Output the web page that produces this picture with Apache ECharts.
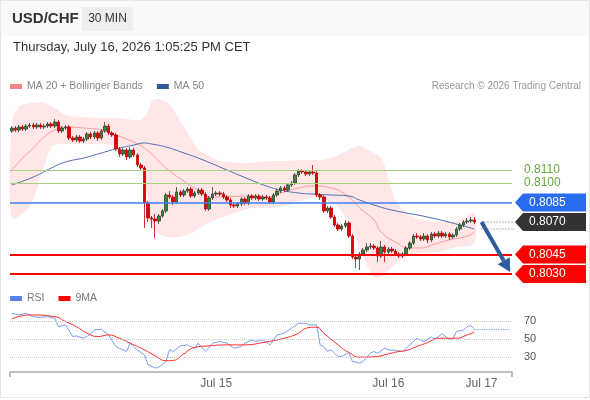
<!DOCTYPE html>
<html>
<head>
<meta charset="utf-8">
<script src="https://cdn.jsdelivr.net/npm/echarts@6.0.0/dist/echarts.min.js"></script>
<style>
html,body{margin:0;padding:0;background:#fff}
#main{width:590px;height:400px}
</style>
</head>
<body>
<div id="main"></div>
<script>
var FONT = '"Liberation Sans", Arial, sans-serif';

// USD/CHF 30 min candles
var opens = [
0.81400,0.81423,0.81408,0.81431,0.81415,0.81438,0.81446,0.81431,0.81446,0.81431,
0.81438,0.81454,0.81438,0.81469,0.81400,0.81423,0.81431,0.81346,0.81331,0.81354,
0.81323,0.81338,0.81377,0.81354,0.81385,0.81346,0.81400,0.81438,0.81385,0.81369,
0.81262,0.81223,0.81254,0.81200,0.81254,0.81215,0.81138,0.81115,0.80846,0.80731,
0.80723,0.80708,0.80746,0.80785,0.80908,0.80892,0.80854,0.80931,0.80908,0.80938,
0.80954,0.80900,0.80923,0.80946,0.80915,0.80800,0.80885,0.80915,0.80923,0.80915,
0.80892,0.80869,0.80831,0.80823,0.80838,0.80877,0.80846,0.80900,0.80885,0.80900,
0.80877,0.80892,0.80885,0.80854,0.80908,0.80938,0.80962,0.80946,0.80985,0.81000,
0.81062,0.81092,0.81085,0.81069,0.81085,0.81077,0.80908,0.80892,0.80785,0.80808,
0.80738,0.80677,0.80646,0.80669,0.80692,0.80592,0.80431,0.80415,0.80454,0.80485,
0.80508,0.80515,0.80500,0.80438,0.80508,0.80469,0.80492,0.80477,0.80454,0.80438,
0.80454,0.80500,0.80538,0.80592,0.80585,0.80569,0.80592,0.80562,0.80608,0.80592,
0.80615,0.80592,0.80608,0.80585,0.80600,0.80646,0.80677,0.80700,0.80708,0.80715];
var closes = [
0.81423,0.81408,0.81431,0.81415,0.81438,0.81446,0.81431,0.81446,0.81431,0.81438,
0.81454,0.81438,0.81469,0.81400,0.81423,0.81431,0.81346,0.81331,0.81354,0.81323,
0.81338,0.81377,0.81354,0.81385,0.81346,0.81400,0.81438,0.81385,0.81369,0.81262,
0.81223,0.81254,0.81200,0.81254,0.81215,0.81138,0.81115,0.80846,0.80731,0.80723,
0.80708,0.80746,0.80785,0.80908,0.80892,0.80854,0.80931,0.80908,0.80938,0.80954,
0.80900,0.80923,0.80946,0.80915,0.80800,0.80885,0.80915,0.80923,0.80915,0.80892,
0.80869,0.80831,0.80823,0.80838,0.80877,0.80846,0.80900,0.80885,0.80900,0.80877,
0.80892,0.80885,0.80854,0.80908,0.80938,0.80962,0.80946,0.80985,0.81000,0.81062,
0.81092,0.81085,0.81069,0.81085,0.81077,0.80908,0.80892,0.80785,0.80808,0.80738,
0.80677,0.80646,0.80669,0.80692,0.80592,0.80431,0.80415,0.80454,0.80485,0.80508,
0.80515,0.80500,0.80438,0.80508,0.80469,0.80492,0.80477,0.80454,0.80438,0.80454,
0.80500,0.80538,0.80592,0.80585,0.80569,0.80592,0.80562,0.80608,0.80592,0.80615,
0.80592,0.80608,0.80585,0.80600,0.80646,0.80677,0.80700,0.80708,0.80715,0.80700];
var highs = [
0.81438,0.81438,0.81446,0.81446,0.81454,0.81462,0.81462,0.81462,0.81462,0.81454,
0.81469,0.81469,0.81492,0.81485,0.81438,0.81446,0.81446,0.81362,0.81369,0.81369,
0.81354,0.81392,0.81392,0.81400,0.81400,0.81415,0.81469,0.81454,0.81400,0.81385,
0.81277,0.81269,0.81269,0.81277,0.81269,0.81231,0.81154,0.81131,0.80862,0.80746,
0.80762,0.80762,0.80800,0.80923,0.80938,0.80908,0.80969,0.80946,0.80954,0.80969,
0.80969,0.80938,0.80962,0.80962,0.80931,0.80900,0.80969,0.80938,0.80938,0.80931,
0.80908,0.80885,0.80846,0.80854,0.80892,0.80892,0.80915,0.80915,0.80915,0.80915,
0.80908,0.80908,0.80900,0.80923,0.80954,0.80977,0.80977,0.81000,0.81015,0.81077,
0.81108,0.81108,0.81100,0.81100,0.81138,0.81092,0.80923,0.80908,0.80823,0.80823,
0.80754,0.80692,0.80685,0.80715,0.80708,0.80608,0.80446,0.80469,0.80500,0.80538,
0.80538,0.80531,0.80515,0.80554,0.80523,0.80508,0.80508,0.80492,0.80469,0.80469,
0.80515,0.80554,0.80608,0.80615,0.80600,0.80615,0.80608,0.80623,0.80623,0.80631,
0.80631,0.80623,0.80623,0.80615,0.80662,0.80692,0.80715,0.80731,0.80738,0.80738];
var lows = [
0.81385,0.81392,0.81392,0.81400,0.81400,0.81423,0.81415,0.81415,0.81415,0.81415,
0.81423,0.81423,0.81423,0.81385,0.81385,0.81408,0.81331,0.81315,0.81315,0.81308,
0.81308,0.81323,0.81338,0.81338,0.81323,0.81331,0.81385,0.81369,0.81354,0.81246,
0.81200,0.81208,0.81177,0.81185,0.81200,0.81123,0.81092,0.80654,0.80700,0.80654,
0.80577,0.80685,0.80731,0.80769,0.80877,0.80831,0.80838,0.80892,0.80892,0.80923,
0.80885,0.80885,0.80908,0.80900,0.80785,0.80785,0.80869,0.80900,0.80900,0.80877,
0.80854,0.80808,0.80808,0.80808,0.80823,0.80831,0.80831,0.80869,0.80869,0.80862,
0.80862,0.80869,0.80838,0.80838,0.80892,0.80923,0.80931,0.80931,0.80969,0.80985,
0.81046,0.81069,0.81054,0.81054,0.81062,0.80892,0.80869,0.80769,0.80769,0.80723,
0.80662,0.80631,0.80631,0.80654,0.80577,0.80415,0.80346,0.80331,0.80438,0.80469,
0.80492,0.80485,0.80392,0.80423,0.80392,0.80454,0.80462,0.80438,0.80423,0.80423,
0.80438,0.80485,0.80523,0.80569,0.80554,0.80554,0.80538,0.80546,0.80577,0.80577,
0.80577,0.80577,0.80562,0.80569,0.80585,0.80631,0.80662,0.80685,0.80692,0.80685];

// moving averages and bands, read at a few candle positions
var ma20Idx = [0,3,6,9,12,15,20,25,29,34,38,43,48,52,56,67,71,75,80,84,89,94,97,101,103,107,111,114,117,122,127,129];
var ma20Val = [0.81100,0.81192,0.81269,0.81354,0.81408,0.81431,0.81423,0.81408,0.81369,0.81315,0.81246,0.81115,0.81015,0.80946,0.80892,0.80900,0.80892,0.80923,0.80962,0.80977,0.80962,0.80892,0.80808,0.80715,0.80623,0.80546,0.80500,0.80500,0.80523,0.80562,0.80592,0.80623];
var ma50Idx = [0,6,11,15,20,25,29,34,37,39,43,48,52,60,66,71,75,80,84,89,94,97,101,106,116,125,129];
var ma50Val = [0.80985,0.81046,0.81115,0.81162,0.81192,0.81231,0.81262,0.81292,0.81308,0.81300,0.81277,0.81231,0.81192,0.81100,0.81031,0.80977,0.80946,0.80923,0.80915,0.80908,0.80900,0.80869,0.80831,0.80792,0.80738,0.80677,0.80646];
var bandUpIdx = [0,2,5,9,12,15,20,25,30,36,38,39,41,44,47,50,52,55,58,63,67,72,77,81,86,89,91,95,97,100,103,105,107,110,114,119,125,129];
var bandUpVal = [0.81462,0.81585,0.81615,0.81615,0.81577,0.81523,0.81508,0.81500,0.81500,0.81485,0.81554,0.81631,0.81646,0.81608,0.81477,0.81346,0.81254,0.81208,0.81169,0.81154,0.81154,0.81169,0.81169,0.81177,0.81177,0.81192,0.81215,0.81269,0.81285,0.81246,0.81192,0.81038,0.80869,0.80777,0.80715,0.80700,0.80715,0.80769];
var bandLoIdx = [0,5,8,11,13,19,25,30,34,36,38,39,43,46,49,53,58,63,67,72,77,81,85,91,95,98,101,103,106,111,119,123,129];
var bandLoVal = [0.80731,0.80815,0.81046,0.81277,0.81300,0.81300,0.81300,0.81285,0.81269,0.81177,0.80869,0.80654,0.80585,0.80585,0.80600,0.80662,0.80731,0.80777,0.80808,0.80808,0.80831,0.80869,0.80885,0.80815,0.80638,0.80431,0.80277,0.80277,0.80354,0.80446,0.80469,0.80500,0.80538];

// RSI panel
var rsiIdx = [0,2,4,6,8,10,12,13,15,17,18,20,22,23,25,27,29,30,32,33,35,37,38,40,41,43,44,45,47,49,51,52,54,56,58,60,62,64,65,67,68,70,72,74,76,78,80,82,83,85,86,87,88,89,91,92,94,95,97,98,100,101,102,104,105,107,109,111,113,114,115,117,118,120,122,123,124,126,127,128,129];
var rsiVal = [78.5,76.7,78.5,74.8,74,74.8,73,63.7,65.6,52.6,53.3,50.7,55.2,60,60.7,54.4,41.5,39.6,35.9,45.2,37.8,32.2,21.1,17.4,18.5,24.8,37.8,35.9,42.2,43.3,39.6,45.2,35.9,45.2,47,45.2,39.6,41.5,45.2,48.9,47,48.9,43.3,54.4,56.3,61.9,67.4,67.4,65.6,65.6,43.3,41.5,35.9,37.8,30.4,30.4,34.8,24.8,23,24.8,34,35.9,34,39.6,37.8,37,35.9,43.3,50.7,48.9,47,51.9,49.6,55.6,49.6,49.6,58.1,60,63.7,64.8,61.1];
var rsiMaIdx = [0,5,12,15,18,21,24,27,30,33,37,40,43,45,48,51,55,60,65,70,76,80,82,85,87,91,94,97,102,105,108,110,113,116,119,124,127,129];
var rsiMaVal = [72.2,76.7,74.8,69.3,63.7,56.3,52.6,54.4,50.7,45.2,37.8,31.1,25.6,25.9,33.3,40.4,42.2,43.3,43.3,45.9,50.7,56.3,61.9,63,56.3,43.3,34.8,29.6,30.4,33.3,35.9,37,41.5,45.9,50.7,50.7,54.4,57.4];
var rsiLevels = [30, 50, 70];

// key levels
var resistLevels = [0.8110, 0.8100];
var pivotLevel = 0.8085;
var lastPrice = 0.8070;
var supportLevels = [0.8045, 0.8030];

var xTickIdx = [57, 105, 131];
var xTickText = ['Jul 15', 'Jul 16', 'Jul 17'];
var nCats = 140;

var cats = [];
for (var i = 0; i < nCats; i++) cats.push(String(i));
var candleData = opens.map(function (o, i) { return [o, closes[i], lows[i], highs[i]]; });
function pairs(idx, val) { return idx.map(function (x, i) { return [x, val[i]]; }); }

var chart = echarts.init(document.getElementById('main'), null, {renderer: 'canvas'});

var levelLines = [];
resistLevels.forEach(function (v) {
  levelLines.push({yAxis: v, lineStyle: {color: '#a3d27a', width: 1, type: 'solid'},
    label: {show: true, position: 'end', distance: 12, color: '#62a83c', fontSize: 12, fontFamily: FONT, formatter: v.toFixed(4)}});
});
levelLines.push({yAxis: pivotLevel, lineStyle: {color: '#3f7ff0', width: 1.5, type: 'solid'}});
supportLevels.forEach(function (v) {
  levelLines.push({yAxis: v, lineStyle: {color: '#ff0000', width: 2, type: 'solid'}});
});

var option = {
  animation: false,
  backgroundColor: '#fff',
  textStyle: {fontFamily: FONT},
  grid: [
    {left: 10, width: 502, top: 79, height: 208},
    {left: 10, width: 502, top: 312, height: 60}
  ],
  legend: [
    {data: ['MA 20 + Bollinger Bands', 'MA 50'], left: 10, top: 81, icon: 'rect', itemWidth: 12, itemHeight: 5,
      itemGap: 14, selectedMode: false, padding: 0,
      textStyle: {color: '#888', fontSize: 10.5, fontFamily: FONT}},
    {data: ['RSI', '9MA'], left: 10, top: 293, icon: 'rect', itemWidth: 12, itemHeight: 5,
      itemGap: 14, selectedMode: false, padding: 0,
      textStyle: {color: '#777', fontSize: 10.5, fontFamily: FONT}}
  ],
  xAxis: [
    {type: 'category', gridIndex: 0, data: cats, boundaryGap: true, show: false},
    {type: 'category', gridIndex: 1, data: cats, boundaryGap: true,
      axisLine: {lineStyle: {color: '#aaaaaa', width: 1.5}},
      axisTick: {show: false},
      axisLabel: {interval: 0, color: '#666', fontSize: 12, margin: 6, fontFamily: FONT,
        formatter: function (v, i) { var k = xTickIdx.indexOf(i); return k >= 0 ? xTickText[k] : ''; }}}
  ],
  yAxis: [
    {type: 'value', gridIndex: 0, min: 0.802, max: 0.818, show: false},
    {type: 'value', gridIndex: 1, min: 13, max: 80, show: false}
  ],
  series: [
    {
      type: 'custom', name: 'bands', xAxisIndex: 0, yAxisIndex: 0, silent: true, z: 1,
      data: [[0, 0.81]],
      renderItem: function (params, api) {
        var pts = [];
        for (var i = 0; i < bandUpIdx.length; i++) pts.push(api.coord([bandUpIdx[i], bandUpVal[i]]));
        for (var j = bandLoIdx.length - 1; j >= 0; j--) pts.push(api.coord([bandLoIdx[j], bandLoVal[j]]));
        return {type: 'polygon', shape: {points: pts, smooth: 0.25}, style: {fill: 'rgba(255,110,110,0.17)'}};
      }
    },
    {
      type: 'line', name: 'MA 20 + Bollinger Bands', xAxisIndex: 0, yAxisIndex: 0, z: 2,
      data: pairs(ma20Idx, ma20Val), smooth: true, showSymbol: false, silent: true,
      color: '#ff8585', lineStyle: {color: '#ff9a9a', width: 1}
    },
    {
      type: 'line', name: 'MA 50', xAxisIndex: 0, yAxisIndex: 0, z: 2,
      data: pairs(ma50Idx, ma50Val), smooth: true, showSymbol: false, silent: true,
      color: '#2f5a9e', lineStyle: {color: '#4a6fb0', width: 1},
      markLine: {symbol: ['none', 'none'], silent: true, precision: 5, label: {show: false}, data: levelLines}
    },
    {
      type: 'candlestick', name: 'USD/CHF', xAxisIndex: 0, yAxisIndex: 0, z: 3,
      data: candleData, barWidth: 3,
      itemStyle: {color: '#2e8b2e', color0: '#e00000', borderColor: '#3a3a3a', borderColor0: '#c00000', borderWidth: 0.8}
    },
    {
      type: 'line', name: 'RSI', xAxisIndex: 1, yAxisIndex: 1,
      data: pairs(rsiIdx, rsiVal), showSymbol: false, silent: true,
      color: '#5b84e8', lineStyle: {color: '#7b9ef0', width: 1},
      markLine: {symbol: ['none', 'none'], silent: true, precision: 2, label: {show: false},
        lineStyle: {color: '#7b9ef0', type: 'dotted', width: 1.2},
        data: [[{coord: [rsiIdx[rsiIdx.length - 1], rsiVal[rsiVal.length - 1]]}, {coord: [nCats - 1, rsiVal[rsiVal.length - 1]]}]]}
    },
    {
      type: 'line', name: '9MA', xAxisIndex: 1, yAxisIndex: 1,
      data: pairs(rsiMaIdx, rsiMaVal), smooth: true, showSymbol: false, silent: true,
      color: '#ff0000', lineStyle: {color: '#ff2a2a', width: 1},
      markLine: {symbol: ['none', 'none'], silent: true,
        lineStyle: {color: '#c8c8c8', type: 'dotted', width: 1},
        label: {show: true, position: 'end', distance: 12, color: '#555', fontSize: 11, fontFamily: FONT,
          formatter: function (p) { return p.value; }},
        data: rsiLevels.map(function (v) { return {yAxis: v}; })}
    }
  ]
};
chart.setOption(option);

// tags, arrow and header drawn after layout, positioned through the axes
function py(v) { return chart.convertToPixel({yAxisIndex: 0}, v); }
function pxy(i, v) { return chart.convertToPixel({gridIndex: 0}, [i, v]); }

var g = [];
g.push({type: 'rect', shape: {x: 0, y: 0, width: 590, height: 36}, style: {fill: '#f9f9f9'}, z: 0});
g.push({type: 'rect', shape: {x: 82, y: 7, width: 51, height: 24}, style: {fill: '#eeeeee'}, z: 1});
g.push({type: 'text', x: 12, y: 19, style: {text: 'USD/CHF', fill: '#333', fontSize: 15, fontWeight: 'bold', fontFamily: FONT, verticalAlign: 'middle'}, z: 2});
g.push({type: 'text', x: 107.5, y: 19, style: {text: '30 MIN', fill: '#333', fontSize: 12, fontFamily: FONT, align: 'center', verticalAlign: 'middle'}, z: 2});
g.push({type: 'text', x: 13, y: 47, style: {text: 'Thursday, July 16, 2026 1:05:25 PM CET', fill: '#333', fontSize: 13, fontFamily: FONT, verticalAlign: 'middle'}, z: 2});
g.push({type: 'text', x: 581, y: 86, style: {text: 'Research \u00a9 2026 Trading Central', fill: '#999', fontSize: 10, fontFamily: FONT, align: 'right', verticalAlign: 'middle'}, z: 2});
g.push({type: 'rect', shape: {x: 0.5, y: 0.5, width: 589, height: 397}, style: {fill: null, stroke: '#e6e6e6', lineWidth: 1}, z: 0});

// end ticks of the RSI time axis
[10, 512].forEach(function (x) {
  g.push({type: 'line', shape: {x1: x, y1: 372, x2: x, y2: 377}, style: {stroke: '#aaa', lineWidth: 1.5}, z: 5});
});

// dotted leaders to the tags
var lastI = opens.length;
[lastPrice, ma50Val[ma50Val.length - 1]].forEach(function (v) {
  var p = pxy(lastI + 1, v);
  g.push({type: 'line', shape: {x1: p[0], y1: p[1], x2: 515, y2: p[1]}, style: {stroke: '#666', lineWidth: 1, lineDash: [1, 2]}, z: 5});
});

var tagLevels = [pivotLevel, lastPrice].concat(supportLevels);
var tagColors = ['#2a6cf0', '#333333', '#ff0000', '#ff0000'];
tagLevels.forEach(function (v, k) {
  var y = py(v);
  g.push({type: 'polygon', shape: {points: [[515, y], [523, y - 9], [586, y - 9], [586, y + 9], [523, y + 9]]},
    style: {fill: tagColors[k]}, z: 6});
  g.push({type: 'text', x: 529, y: y, style: {text: v.toFixed(4), fill: '#fff', fontSize: 12, fontFamily: FONT, verticalAlign: 'middle'}, z: 7});
});

// forecast arrow toward the lower support
var a0 = pxy(lastI + 1, lastPrice);
var a1 = pxy(nCats - 1, supportLevels[1] + 0.00015);
var dx = a1[0] - a0[0], dy = a1[1] - a0[1], len = Math.sqrt(dx * dx + dy * dy);
var ux = dx / len, uy = dy / len, hl = 13, hw = 7;
var bx = a1[0] - ux * hl, by = a1[1] - uy * hl;
g.push({type: 'line', shape: {x1: a0[0], y1: a0[1], x2: bx, y2: by}, style: {stroke: '#2e5c9c', lineWidth: 4}, z: 8});
g.push({type: 'polygon', shape: {points: [[a1[0], a1[1]], [bx - uy * hw, by + ux * hw], [bx + uy * hw, by - ux * hw]]},
  style: {fill: '#2e5c9c'}, z: 8});

chart.setOption({graphic: g});
</script>
</body>
</html>
